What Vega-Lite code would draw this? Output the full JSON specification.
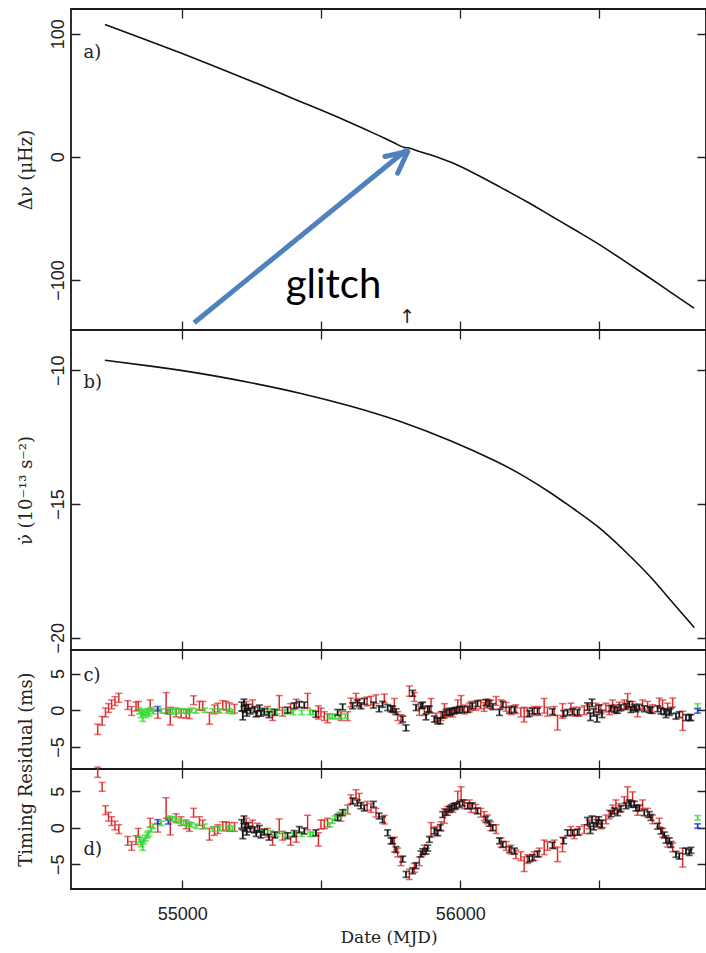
{
"$schema": "https://vega.github.io/schema/vega-lite/v6.json",
"background": "white",
"padding": {"left": 16, "top": 8, "right": 1, "bottom": 4},
"spacing": 0,
"bounds": "flush",
"config": {
  "view": {"stroke": "#1a1a1a", "strokeWidth": 1.8},
  "axis": {"domain": false, "grid": true, "ticks": false, "tickSize": 0, "gridColor": "#222", "gridWidth": 1.3, "gridOpacity": 1, "labelFont": "Liberation Sans", "labelFontSize": 18, "labelColor": "#222", "titleFont": "DejaVu Serif", "titleFontSize": 18, "titleFontWeight": "normal", "titleColor": "#222", "labelOverlap": false, "labelFlush": false}
},
"datasets": {
  "nu": [
    {"mjd":54722,"dnu":107.5},{"mjd":54850,"dnu":96.7},{"mjd":55000,"dnu":83.8},{"mjd":55100,"dnu":75},{"mjd":55247,"dnu":61.6},{"mjd":55400,"dnu":47.2},{"mjd":55583,"dnu":29.9},{"mjd":55700,"dnu":18.0},{"mjd":55760,"dnu":11.6},{"mjd":55800,"dnu":7.5},{"mjd":55812,"dnu":7.3},{"mjd":55850,"dnu":4.6},{"mjd":55895,"dnu":1.4},{"mjd":55967,"dnu":-4.5},{"mjd":56060,"dnu":-14.5},{"mjd":56147,"dnu":-25},{"mjd":56240,"dnu":-36.5},{"mjd":56327,"dnu":-48},{"mjd":56410,"dnu":-59},{"mjd":56495,"dnu":-70.5},{"mjd":56590,"dnu":-84.5},{"mjd":56686,"dnu":-99},{"mjd":56760,"dnu":-110.5},{"mjd":56841,"dnu":-122.8}
  ],
  "nudot": [
    {"mjd":54722,"nd":-9.63},{"mjd":54900,"nd":-9.87},{"mjd":55068,"nd":-10.13},{"mjd":55247,"nd":-10.47},{"mjd":55427,"nd":-10.87},{"mjd":55607,"nd":-11.35},{"mjd":55787,"nd":-11.93},{"mjd":55967,"nd":-12.65},{"mjd":56123,"nd":-13.38},{"mjd":56230,"nd":-13.97},{"mjd":56327,"nd":-14.6},{"mjd":56410,"nd":-15.2},{"mjd":56495,"nd":-15.85},{"mjd":56591,"nd":-16.75},{"mjd":56686,"nd":-17.75},{"mjd":56760,"nd":-18.64},{"mjd":56842,"nd":-19.62}
  ],
  "res": [
{"t":54696,"o":"R","e":0.7,"c":-2.6,"d":7.6},
{"t":54712,"o":"R","e":0.6,"c":-1.45,"d":5.6},
{"t":54724,"o":"R","e":0.6,"c":-0.3,"d":2.4},
{"t":54735,"o":"R","e":0.6,"c":0.3,"d":1.5},
{"t":54746,"o":"R","e":0.6,"c":0.8,"d":0.9},
{"t":54758,"o":"R","e":0.6,"c":1.25,"d":0.3},
{"t":54772,"o":"R","e":0.6,"c":1.7,"d":-0.2},
{"t":54804,"o":"R","e":0.6,"c":0.7,"d":-1.8},
{"t":54818,"o":"R","e":0.6,"c":-0.1,"d":-2.5},
{"t":54834,"o":"R","e":0.6,"c":0.5,"d":-1.7},
{"t":54842,"o":"R","e":0.6,"c":0.6,"d":-0.7},
{"t":54846,"o":"G","e":0.4,"c":-0.1,"d":-1.6},
{"t":54852,"o":"G","e":0.5,"c":-0.5,"d":-2.1},
{"t":54858,"o":"G","e":0.6,"c":-0.9,"d":-2.5},
{"t":54862,"o":"G","e":0.4,"c":-0.3,"d":-1.8},
{"t":54868,"o":"G","e":0.4,"c":-0.6,"d":-1.4},
{"t":54874,"o":"G","e":0.4,"c":-0.2,"d":-1.0},
{"t":54880,"o":"G","e":0.4,"c":-0.4,"d":-0.8},
{"t":54885,"o":"R","e":0.6,"c":0.8,"d":0.7},
{"t":54888,"o":"G","e":0.3,"c":0.1,"d":-0.3},
{"t":54895,"o":"G","e":0.3,"c":-0.2,"d":0.2},
{"t":54912,"o":"R","e":0.6,"c":-0.5,"d":0.0},
{"t":54912,"o":"B","e":0.3,"c":0.2,"d":0.8},
{"t":54925,"o":"G","e":0.3,"c":-0.1,"d":0.6},
{"t":54942,"o":"R","e":1.4,"c":1.0,"d":2.7},
{"t":54950,"o":"B","e":0.3,"c":-0.2,"d":0.8},
{"t":54952,"o":"G","e":0.3,"c":-0.2,"d":1.3},
{"t":54957,"o":"R","e":1.2,"c":-0.8,"d":0.2},
{"t":54965,"o":"G","e":0.3,"c":-0.1,"d":1.2},
{"t":54975,"o":"G","e":0.3,"c":-0.2,"d":1.1},
{"t":54978,"o":"R","e":0.6,"c":-0.3,"d":1.3},
{"t":54988,"o":"G","e":0.3,"c":-0.1,"d":0.9},
{"t":54996,"o":"R","e":0.6,"c":-0.45,"d":0.9},
{"t":55005,"o":"G","e":0.3,"c":-0.1,"d":0.7},
{"t":55014,"o":"R","e":0.6,"c":-0.45,"d":0.45},
{"t":55020,"o":"G","e":0.3,"c":-0.2,"d":0.5},
{"t":55026,"o":"R","e":0.6,"c":-0.55,"d":0.1},
{"t":55033,"o":"G","e":0.3,"c":0.0,"d":0.4},
{"t":55041,"o":"R","e":0.6,"c":1.36,"d":2.05},
{"t":55050,"o":"G","e":0.3,"c":-0.1,"d":0.2},
{"t":55062,"o":"R","e":0.6,"c":0.6,"d":0.9},
{"t":55074,"o":"R","e":0.6,"c":0.6,"d":0.45},
{"t":55080,"o":"G","e":0.3,"c":0.0,"d":0.2},
{"t":55098,"o":"R","e":0.8,"c":-1.1,"d":-0.9},
{"t":55110,"o":"G","e":0.3,"c":-0.1,"d":-0.2},
{"t":55116,"o":"R","e":0.6,"c":0.1,"d":-0.45},
{"t":55128,"o":"R","e":0.6,"c":0.35,"d":-0.2},
{"t":55135,"o":"G","e":0.3,"c":-0.1,"d":-0.1},
{"t":55146,"o":"R","e":0.6,"c":0.7,"d":0.2},
{"t":55158,"o":"R","e":0.6,"c":0.6,"d":0.2},
{"t":55165,"o":"G","e":0.3,"c":-0.1,"d":0.0},
{"t":55170,"o":"R","e":0.6,"c":0.4,"d":0.1},
{"t":55180,"o":"G","e":0.3,"c":-0.2,"d":-0.1},
{"t":55188,"o":"R","e":0.6,"c":0.2,"d":0.1},
{"t":55214,"o":"K","e":0.6,"c":0.5,"d":0.5},
{"t":55218,"o":"K","e":0.6,"c":-0.7,"d":-0.9},
{"t":55222,"o":"K","e":0.5,"c":1.0,"d":1.1},
{"t":55226,"o":"K","e":0.5,"c":0.2,"d":0.0},
{"t":55230,"o":"R","e":0.6,"c":0.6,"d":0.7},
{"t":55232,"o":"K","e":0.5,"c":-0.3,"d":-0.5},
{"t":55238,"o":"K","e":0.4,"c":0.4,"d":0.3},
{"t":55245,"o":"K","e":0.4,"c":-0.1,"d":-0.2},
{"t":55253,"o":"R","e":0.6,"c":0.8,"d":0.45},
{"t":55260,"o":"K","e":0.4,"c":0.1,"d":-0.3},
{"t":55266,"o":"K","e":0.4,"c":-0.5,"d":-0.8},
{"t":55271,"o":"R","e":0.6,"c":-0.2,"d":0.0},
{"t":55278,"o":"K","e":0.4,"c":0.3,"d":-0.1},
{"t":55283,"o":"K","e":0.4,"c":-0.4,"d":-1.0},
{"t":55290,"o":"G","e":0.3,"c":0.0,"d":-0.6},
{"t":55295,"o":"K","e":0.4,"c":-0.2,"d":-0.6},
{"t":55307,"o":"R","e":0.6,"c":-0.1,"d":-0.7},
{"t":55312,"o":"K","e":0.4,"c":-0.6,"d":-1.3},
{"t":55318,"o":"G","e":0.3,"c":-0.1,"d":-0.7},
{"t":55325,"o":"R","e":0.6,"c":-0.8,"d":-1.8},
{"t":55333,"o":"K","e":0.4,"c":-0.3,"d":-1.0},
{"t":55340,"o":"G","e":0.3,"c":-0.2,"d":-0.9},
{"t":55349,"o":"R","e":1.0,"c":1.0,"d":0.2},
{"t":55361,"o":"R","e":0.6,"c":-0.2,"d":-1.1},
{"t":55370,"o":"G","e":0.3,"c":-0.2,"d":-1.0},
{"t":55379,"o":"K","e":0.4,"c":0.0,"d":-1.1},
{"t":55390,"o":"R","e":0.6,"c":0.3,"d":-1.8},
{"t":55398,"o":"G","e":0.3,"c":-0.3,"d":-1.0},
{"t":55403,"o":"K","e":0.4,"c":0.6,"d":-0.8},
{"t":55410,"o":"R","e":0.6,"c":0.9,"d":-1.4},
{"t":55421,"o":"K","e":0.4,"c":0.8,"d":-0.25},
{"t":55430,"o":"G","e":0.3,"c":-0.3,"d":-0.9},
{"t":55439,"o":"K","e":0.4,"c":0.7,"d":-0.45},
{"t":55451,"o":"R","e":1.0,"c":1.3,"d":0.7},
{"t":55460,"o":"G","e":0.3,"c":-0.3,"d":-0.9},
{"t":55470,"o":"G","e":0.3,"c":-0.3,"d":-0.9},
{"t":55481,"o":"K","e":0.4,"c":-0.55,"d":-0.7},
{"t":55490,"o":"R","e":0.9,"c":-0.3,"d":-1.6},
{"t":55499,"o":"R","e":0.6,"c":-0.3,"d":0.45},
{"t":55511,"o":"R","e":0.6,"c":-0.8,"d":0.45},
{"t":55523,"o":"R","e":0.6,"c":-1.1,"d":0.7},
{"t":55530,"o":"G","e":0.3,"c":-0.8,"d":0.4},
{"t":55540,"o":"G","e":0.3,"c":-0.9,"d":0.9},
{"t":55550,"o":"G","e":0.3,"c":-0.8,"d":1.3},
{"t":55559,"o":"K","e":0.4,"c":-0.3,"d":1.4},
{"t":55565,"o":"G","e":0.3,"c":-0.9,"d":1.7},
{"t":55571,"o":"R","e":0.6,"c":-0.8,"d":1.5},
{"t":55577,"o":"K","e":0.4,"c":0.45,"d":2.05},
{"t":55587,"o":"G","e":0.3,"c":-0.8,"d":2.2},
{"t":55595,"o":"R","e":0.6,"c":-0.8,"d":2.5},
{"t":55607,"o":"R","e":0.6,"c":1.05,"d":3.9},
{"t":55613,"o":"K","e":0.4,"c":0.6,"d":3.65},
{"t":55625,"o":"R","e":0.6,"c":1.7,"d":4.6},
{"t":55630,"o":"K","e":0.4,"c":1.0,"d":3.4},
{"t":55637,"o":"R","e":0.6,"c":1.0,"d":4.1},
{"t":55643,"o":"K","e":0.4,"c":0.6,"d":3.0},
{"t":55655,"o":"K","e":0.4,"c":1.2,"d":2.7},
{"t":55665,"o":"R","e":0.6,"c":1.2,"d":3.0},
{"t":55679,"o":"R","e":0.6,"c":1.3,"d":2.7},
{"t":55688,"o":"K","e":0.4,"c":0.7,"d":3.2},
{"t":55697,"o":"R","e":0.6,"c":1.5,"d":2.05},
{"t":55708,"o":"K","e":0.4,"c":0.2,"d":1.6},
{"t":55721,"o":"K","e":0.4,"c":0.8,"d":1.1},
{"t":55727,"o":"R","e":0.6,"c":1.6,"d":1.1},
{"t":55739,"o":"K","e":0.4,"c":0.36,"d":-0.7},
{"t":55751,"o":"K","e":0.4,"c":0.2,"d":-1.8},
{"t":55757,"o":"K","e":0.4,"c":0.15,"d":-1.8},
{"t":55763,"o":"R","e":1.0,"c":0.6,"d":-2.3},
{"t":55769,"o":"K","e":0.4,"c":-0.2,"d":-3.0},
{"t":55775,"o":"R","e":0.6,"c":-0.8,"d":-3.4},
{"t":55787,"o":"R","e":0.6,"c":-1.2,"d":-4.6},
{"t":55793,"o":"K","e":0.4,"c":-1.2,"d":-4.3},
{"t":55805,"o":"K","e":0.4,"c":-2.4,"d":-6.4},
{"t":55817,"o":"R","e":0.7,"c":2.6,"d":-6.4},
{"t":55829,"o":"K","e":0.4,"c":2.3,"d":-5.9},
{"t":55835,"o":"R","e":0.6,"c":1.8,"d":-5.5},
{"t":55841,"o":"K","e":0.4,"c":0.36,"d":-5.2},
{"t":55853,"o":"R","e":0.6,"c":-0.1,"d":-4.6},
{"t":55859,"o":"K","e":0.4,"c":0.6,"d":-3.6},
{"t":55865,"o":"K","e":0.4,"c":0.7,"d":-3.3},
{"t":55871,"o":"R","e":0.6,"c":-0.1,"d":-3.0},
{"t":55877,"o":"K","e":0.4,"c":-0.9,"d":-3.2},
{"t":55883,"o":"K","e":0.4,"c":0.15,"d":-2.8},
{"t":55889,"o":"K","e":0.4,"c":0.15,"d":-1.6},
{"t":55895,"o":"R","e":1.0,"c":0.6,"d":-0.3},
{"t":55907,"o":"K","e":0.4,"c":-1.2,"d":-0.45},
{"t":55913,"o":"R","e":0.6,"c":-1.0,"d":-0.45},
{"t":55919,"o":"K","e":0.4,"c":-1.45,"d":-0.7},
{"t":55928,"o":"K","e":0.4,"c":-1.45,"d":0.0},
{"t":55931,"o":"R","e":0.6,"c":-0.8,"d":0.2},
{"t":55937,"o":"K","e":0.4,"c":-0.6,"d":1.8},
{"t":55943,"o":"R","e":1.0,"c":-0.1,"d":1.6},
{"t":55949,"o":"K","e":0.4,"c":-0.3,"d":2.1},
{"t":55955,"o":"R","e":0.6,"c":-0.3,"d":2.3},
{"t":55961,"o":"K","e":0.4,"c":-0.3,"d":2.5},
{"t":55967,"o":"K","e":0.4,"c":-0.2,"d":2.7},
{"t":55973,"o":"R","e":0.6,"c":-0.3,"d":2.7},
{"t":55979,"o":"K","e":0.4,"c":-0.1,"d":2.9},
{"t":55985,"o":"K","e":0.4,"c":0.0,"d":3.0},
{"t":55991,"o":"R","e":0.9,"c":0.5,"d":4.1},
{"t":55997,"o":"K","e":0.4,"c":0.1,"d":3.2},
{"t":56003,"o":"R","e":1.0,"c":1.0,"d":4.6},
{"t":56009,"o":"K","e":0.4,"c":0.1,"d":3.4},
{"t":56015,"o":"R","e":0.6,"c":0.1,"d":3.2},
{"t":56027,"o":"K","e":0.4,"c":0.1,"d":3.0},
{"t":56033,"o":"R","e":0.6,"c":0.36,"d":3.2},
{"t":56039,"o":"R","e":0.6,"c":0.6,"d":2.7},
{"t":56044,"o":"K","e":0.4,"c":0.6,"d":3.0},
{"t":56056,"o":"R","e":0.6,"c":0.6,"d":2.6},
{"t":56062,"o":"K","e":0.4,"c":0.9,"d":2.3},
{"t":56074,"o":"R","e":0.6,"c":0.8,"d":2.05},
{"t":56086,"o":"R","e":0.6,"c":0.45,"d":1.6},
{"t":56092,"o":"K","e":0.4,"c":1.05,"d":1.14},
{"t":56098,"o":"R","e":0.6,"c":0.9,"d":1.14},
{"t":56104,"o":"K","e":0.4,"c":0.9,"d":0.6},
{"t":56110,"o":"R","e":0.6,"c":0.8,"d":0.2},
{"t":56117,"o":"K","e":0.4,"c":0.5,"d":0.0},
{"t":56129,"o":"R","e":0.6,"c":1.27,"d":-0.2},
{"t":56141,"o":"K","e":0.4,"c":-0.3,"d":-1.8},
{"t":56147,"o":"R","e":0.6,"c":0.8,"d":-2.05},
{"t":56153,"o":"K","e":0.4,"c":0.8,"d":-2.3},
{"t":56165,"o":"R","e":0.6,"c":0.45,"d":-2.5},
{"t":56177,"o":"K","e":0.4,"c":0.0,"d":-3.0},
{"t":56183,"o":"R","e":0.6,"c":0.0,"d":-3.0},
{"t":56195,"o":"K","e":0.4,"c":0.1,"d":-3.2},
{"t":56200,"o":"R","e":0.6,"c":0.14,"d":-3.65},
{"t":56218,"o":"R","e":0.6,"c":-0.3,"d":-3.9},
{"t":56230,"o":"R","e":1.0,"c":-0.6,"d":-5.0},
{"t":56242,"o":"R","e":0.6,"c":-0.3,"d":-4.3},
{"t":56248,"o":"K","e":0.4,"c":-0.45,"d":-4.3},
{"t":56260,"o":"K","e":0.4,"c":-0.1,"d":-4.1},
{"t":56266,"o":"R","e":0.6,"c":-0.1,"d":-3.9},
{"t":56278,"o":"K","e":0.4,"c":-0.1,"d":-3.6},
{"t":56284,"o":"R","e":0.6,"c":-0.1,"d":-3.4},
{"t":56302,"o":"R","e":1.0,"c":0.6,"d":-2.7},
{"t":56314,"o":"R","e":0.6,"c":-0.2,"d":-2.5},
{"t":56332,"o":"K","e":0.4,"c":-0.2,"d":-2.4},
{"t":56338,"o":"R","e":0.6,"c":-0.1,"d":-2.3},
{"t":56350,"o":"R","e":1.0,"c":-1.7,"d":-3.65},
{"t":56368,"o":"R","e":1.0,"c":-0.1,"d":-2.3},
{"t":56372,"o":"K","e":0.4,"c":-0.45,"d":-1.8},
{"t":56386,"o":"K","e":0.4,"c":-0.3,"d":-0.7},
{"t":56398,"o":"R","e":0.6,"c":0.36,"d":-0.45},
{"t":56404,"o":"K","e":0.4,"c":-0.2,"d":-0.7},
{"t":56410,"o":"R","e":0.6,"c":-0.2,"d":-0.9},
{"t":56422,"o":"K","e":0.4,"c":-0.3,"d":-0.6},
{"t":56428,"o":"R","e":0.6,"c":-0.2,"d":-0.45},
{"t":56446,"o":"R","e":0.6,"c":0.0,"d":-0.2},
{"t":56458,"o":"K","e":0.5,"c":0.5,"d":0.9},
{"t":56464,"o":"R","e":0.6,"c":0.2,"d":0.45},
{"t":56468,"o":"K","e":0.5,"c":-0.9,"d":-0.3},
{"t":56474,"o":"K","e":0.5,"c":1.0,"d":1.1},
{"t":56480,"o":"K","e":0.5,"c":-0.3,"d":0.2},
{"t":56488,"o":"R","e":0.6,"c":0.36,"d":0.9},
{"t":56492,"o":"K","e":0.5,"c":-1.1,"d":0.6},
{"t":56498,"o":"K","e":0.5,"c":0.2,"d":1.0},
{"t":56506,"o":"R","e":0.6,"c":0.14,"d":0.45},
{"t":56510,"o":"K","e":0.5,"c":-0.5,"d":0.5},
{"t":56524,"o":"R","e":0.6,"c":0.36,"d":1.14},
{"t":56536,"o":"R","e":0.6,"c":0.0,"d":1.8},
{"t":56542,"o":"K","e":0.4,"c":0.27,"d":1.9},
{"t":56548,"o":"R","e":0.6,"c":0.8,"d":2.5},
{"t":56554,"o":"K","e":0.4,"c":0.1,"d":2.3},
{"t":56560,"o":"R","e":0.6,"c":0.14,"d":3.2},
{"t":56566,"o":"K","e":0.4,"c":0.0,"d":2.05},
{"t":56572,"o":"R","e":0.6,"c":0.5,"d":2.7},
{"t":56578,"o":"K","e":0.4,"c":0.36,"d":2.6},
{"t":56590,"o":"R","e":0.6,"c":0.8,"d":3.65},
{"t":56596,"o":"K","e":0.4,"c":0.5,"d":3.0},
{"t":56602,"o":"R","e":1.0,"c":1.27,"d":4.6},
{"t":56608,"o":"K","e":0.4,"c":0.8,"d":3.4},
{"t":56614,"o":"K","e":0.4,"c":0.1,"d":3.2},
{"t":56620,"o":"R","e":0.6,"c":0.6,"d":4.3},
{"t":56626,"o":"K","e":0.4,"c":0.4,"d":3.2},
{"t":56632,"o":"K","e":0.4,"c":0.2,"d":2.7},
{"t":56638,"o":"R","e":0.6,"c":-0.3,"d":2.3},
{"t":56644,"o":"K","e":0.4,"c":0.4,"d":2.7},
{"t":56656,"o":"R","e":0.6,"c":0.8,"d":3.2},
{"t":56662,"o":"K","e":0.4,"c":0.2,"d":2.05},
{"t":56674,"o":"R","e":0.6,"c":0.6,"d":2.05},
{"t":56680,"o":"K","e":0.4,"c":0.1,"d":1.8},
{"t":56686,"o":"K","e":0.4,"c":0.0,"d":1.4},
{"t":56692,"o":"R","e":0.6,"c":0.14,"d":1.14},
{"t":56710,"o":"K","e":0.4,"c":0.2,"d":0.2},
{"t":56716,"o":"R","e":0.6,"c":1.05,"d":0.7},
{"t":56722,"o":"K","e":0.4,"c":-0.1,"d":-0.45},
{"t":56728,"o":"R","e":0.6,"c":0.8,"d":-0.7},
{"t":56734,"o":"K","e":0.4,"c":-0.2,"d":-1.0},
{"t":56740,"o":"K","e":0.5,"c":-0.5,"d":-1.6},
{"t":56746,"o":"R","e":0.6,"c":0.36,"d":-2.05},
{"t":56752,"o":"K","e":0.4,"c":-0.3,"d":-1.8},
{"t":56758,"o":"K","e":0.4,"c":-0.1,"d":-2.3},
{"t":56764,"o":"R","e":0.6,"c":1.05,"d":-2.7},
{"t":56776,"o":"K","e":0.4,"c":-0.8,"d":-3.65},
{"t":56788,"o":"K","e":0.4,"c":-0.6,"d":-3.9},
{"t":56800,"o":"R","e":1.3,"c":-1.45,"d":-4.1},
{"t":56812,"o":"K","e":0.4,"c":-1.0,"d":-3.2},
{"t":56824,"o":"K","e":0.4,"c":-1.0,"d":-3.4},
{"t":56830,"o":"K","e":0.4,"c":-1.0,"d":-3.1},
{"t":56854,"o":"G","e":0.3,"c":0.59,"d":1.37},
{"t":56854,"o":"B","e":0.3,"c":-0.1,"d":0.23}
  ]
},
"vconcat": [
  {
    "width": 635, "height": 321,
    "layer": [
      {"data": {"name": "nu"},
       "mark": {"type": "line", "color": "#111", "strokeWidth": 1.6, "interpolate": "monotone"},
       "encoding": {
         "x": {"field": "mjd", "type": "quantitative", "scale": {"domain": [54600, 56884], "nice": false, "zero": false},
               "axis": {"orient": "bottom", "values": [55000,55500,56000,56500], "labels": false, "title": null, "gridDash": [9, 303, 9]}},
         "y": {"field": "dnu", "type": "quantitative", "scale": {"domain": [-140.6, 120], "nice": false, "zero": false},
               "axis": {"orient": "left", "values": [-100, 0, 100], "format": "d", "labelAngle": -90, "labelAlign": "center", "labelBaseline": "bottom", "labelPadding": 4, "minExtent": 32, "maxExtent": 32, "title": "Δν (μHz)", "titlePadding": 4, "gridDash": [9, 617, 9]}}
       }},
      {"data": {"name": "nu"},
       "mark": {"type": "point", "opacity": 0},
       "encoding": {
         "x": {"field": "mjd", "type": "quantitative", "scale": {"domain": [54600, 56884], "nice": false, "zero": false},
               "axis": {"orient": "top", "values": [54700,54800,54900,55000,55100,55200,55300,55400,55500,55600,55700,55800,55900,56000,56100,56200,56300,56400,56500,56600,56700,56800], "labels": false, "title": null, "gridDash": [5, 311, 5]}},
         "y": {"field": "dnu", "type": "quantitative", "scale": {"domain": [-140.6, 120], "nice": false, "zero": false},
               "axis": {"orient": "right", "values": [-140,-120,-100,-80,-60,-40,-20,0,20,40,60,80,100,120], "labels": false, "title": null, "gridDash": [5, 625, 5]}}
       }},
      {"data": {"values": [{}]},
       "mark": {"type": "text", "font": "DejaVu Serif", "fontSize": 18, "align": "left", "baseline": "middle", "color": "#222"},
       "encoding": {"x": {"datum": 54645, "type": "quantitative", "axis": null}, "y": {"datum": 84, "type": "quantitative", "axis": null}, "text": {"value": "a)"}}},
      {"data": {"values": [{}]},
       "mark": {"type": "text", "font": "DejaVu Sans", "fontSize": 19, "align": "center", "baseline": "middle", "color": "#222"},
       "encoding": {"x": {"datum": 55809, "type": "quantitative", "axis": null}, "y": {"datum": -130, "type": "quantitative", "axis": null}, "text": {"value": "↑"}}},
      {"data": {"values": [{}]},
       "mark": {"type": "rule", "color": "#4f81bd", "strokeWidth": 5, "strokeCap": "butt"},
       "encoding": {"x": {"datum": 55043, "type": "quantitative", "axis": null}, "y": {"datum": -134.7, "type": "quantitative", "axis": null}, "x2": {"datum": 55806}, "y2": {"datum": 5.5}}},
      {"data": {"values": [{}]},
       "mark": {"type": "rule", "color": "#4f81bd", "strokeWidth": 5, "strokeCap": "round"},
       "encoding": {"x": {"datum": 55811, "type": "quantitative", "axis": null}, "y": {"datum": 4.3, "type": "quantitative", "axis": null}, "x2": {"datum": 55729}, "y2": {"datum": 0.3}}},
      {"data": {"values": [{}]},
       "mark": {"type": "rule", "color": "#4f81bd", "strokeWidth": 5, "strokeCap": "round"},
       "encoding": {"x": {"datum": 55811, "type": "quantitative", "axis": null}, "y": {"datum": 4.3, "type": "quantitative", "axis": null}, "x2": {"datum": 55775}, "y2": {"datum": -13.3}}},
      {"data": {"values": [{}]},
       "mark": {"type": "text", "font": "Lato", "fontSize": 40, "align": "center", "baseline": "alphabetic", "color": "#000"},
       "encoding": {"x": {"datum": 55544, "type": "quantitative", "axis": null}, "y": {"datum": -114.4, "type": "quantitative", "axis": null}, "text": {"value": "glitch"}}}
    ],
    "resolve": {"axis": {"x": "independent", "y": "independent"}}
  },
  {
    "width": 635, "height": 320,
    "layer": [
      {"data": {"name": "nudot"},
       "mark": {"type": "line", "color": "#111", "strokeWidth": 1.6, "interpolate": "natural"},
       "encoding": {
         "x": {"field": "mjd", "type": "quantitative", "scale": {"domain": [54600, 56884], "nice": false, "zero": false},
               "axis": {"orient": "bottom", "values": [55000,55500,56000,56500], "labels": false, "title": null, "gridDash": [9, 302, 9]}},
         "y": {"field": "nd", "type": "quantitative", "scale": {"domain": [-20.46, -8.5], "nice": false, "zero": false},
               "axis": {"orient": "left", "values": [-20, -15, -10], "format": "d", "labelAngle": -90, "labelAlign": "center", "labelBaseline": "bottom", "labelPadding": 4, "minExtent": 32, "maxExtent": 32, "title": "ν̇ (10⁻¹³ s⁻²)", "titlePadding": 4, "gridDash": [9, 617, 9]}}
       }},
      {"data": {"name": "nudot"},
       "mark": {"type": "point", "opacity": 0},
       "encoding": {
         "x": {"field": "mjd", "type": "quantitative", "scale": {"domain": [54600, 56884], "nice": false, "zero": false},
               "axis": {"orient": "top", "values": [54700,54800,54900,55000,55100,55200,55300,55400,55500,55600,55700,55800,55900,56000,56100,56200,56300,56400,56500,56600,56700,56800], "labels": false, "title": null, "gridDash": [5, 310, 5]}},
         "y": {"field": "nd", "type": "quantitative", "scale": {"domain": [-20.46, -8.5], "nice": false, "zero": false},
               "axis": {"orient": "right", "values": [-20,-19,-18,-17,-16,-15,-14,-13,-12,-11,-10,-9], "labels": false, "title": null, "gridDash": [5, 625, 5]}}
       }},
      {"data": {"values": [{}]},
       "mark": {"type": "text", "font": "DejaVu Serif", "fontSize": 18, "align": "left", "baseline": "middle", "color": "#222"},
       "encoding": {"x": {"datum": 54645, "type": "quantitative", "axis": null}, "y": {"datum": -10.49, "type": "quantitative", "axis": null}, "text": {"value": "b)"}}}
    ],
    "resolve": {"axis": {"x": "independent", "y": "independent"}}
  },
  {
    "width": 635, "height": 119,
    "layer": [
      {"data": {"name": "res"},
       "mark": {"type": "point", "opacity": 0},
       "encoding": {
         "x": {"field": "t", "type": "quantitative", "scale": {"domain": [54600, 56884], "nice": false, "zero": false},
               "axis": {"orient": "bottom", "values": [55000,55500,56000,56500], "labels": false, "title": null, "gridDash": [9, 101, 9]}},
         "y": {"field": "c", "type": "quantitative", "scale": {"domain": [-8.0, 8.2], "nice": false, "zero": false},
               "axis": {"orient": "left", "values": [-5, 0, 5], "format": "d", "labelAngle": -90, "labelAlign": "center", "labelBaseline": "bottom", "labelPadding": 4, "minExtent": 32, "maxExtent": 32, "title": "Timing Residual (ms)", "titleY": 119, "titlePadding": 4, "gridDash": [9, 617, 9]}}
       }},
      {"data": {"name": "res"},
       "mark": {"type": "point", "opacity": 0},
       "encoding": {
         "x": {"field": "t", "type": "quantitative", "scale": {"domain": [54600, 56884], "nice": false, "zero": false},
               "axis": {"orient": "top", "values": [54700,54800,54900,55000,55100,55200,55300,55400,55500,55600,55700,55800,55900,56000,56100,56200,56300,56400,56500,56600,56700,56800], "labels": false, "title": null, "gridDash": [5, 109, 5]}},
         "y": {"field": "c", "type": "quantitative", "scale": {"domain": [-8.0, 8.2], "nice": false, "zero": false},
               "axis": {"orient": "right", "values": [-8,-7,-6,-5,-4,-3,-2,-1,0,1,2,3,4,5,6,7,8], "labels": false, "title": null, "gridDash": [5, 625, 5]}}
       }},
      {"data": {"name": "res"},
       "transform": [{"filter": "datum.o === 'R'"}],
       "mark": {"type": "errorbar", "ticks": {"size": 7}, "thickness": 1.5},
       "encoding": {
         "x": {"field": "t", "type": "quantitative", "axis": null},
         "y": {"field": "c", "type": "quantitative", "axis": null},
         "yError": {"field": "e"},
         "color": {"field": "o", "type": "nominal", "scale": {"domain": ["R","G","B","K"], "range": ["#dc2b2b","#36dc36","#1f30d0","#111111"]}, "legend": null}
       }},
      {"data": {"name": "res"},
       "transform": [{"filter": "datum.o === 'G' || datum.o === 'B'"}],
       "mark": {"type": "errorbar", "ticks": {"size": 7}, "thickness": 1.7},
       "encoding": {
         "x": {"field": "t", "type": "quantitative", "axis": null},
         "y": {"field": "c", "type": "quantitative", "axis": null},
         "yError": {"field": "e"},
         "color": {"field": "o", "type": "nominal", "scale": {"domain": ["R","G","B","K"], "range": ["#dc2b2b","#36dc36","#1f30d0","#111111"]}, "legend": null}
       }},
      {"data": {"name": "res"},
       "transform": [{"filter": "datum.o === 'K'"}],
       "mark": {"type": "errorbar", "ticks": {"size": 7}, "thickness": 1.7},
       "encoding": {
         "x": {"field": "t", "type": "quantitative", "axis": null},
         "y": {"field": "c", "type": "quantitative", "axis": null},
         "yError": {"field": "e"},
         "color": {"field": "o", "type": "nominal", "scale": {"domain": ["R","G","B","K"], "range": ["#dc2b2b","#36dc36","#1f30d0","#111111"]}, "legend": null}
       }},
      {"data": {"values": [{}]},
       "mark": {"type": "text", "font": "DejaVu Serif", "fontSize": 18, "align": "left", "baseline": "middle", "color": "#222"},
       "encoding": {"x": {"datum": 54645, "type": "quantitative", "axis": null}, "y": {"datum": 4.7, "type": "quantitative", "axis": null}, "text": {"value": "c)"}}}
    ],
    "resolve": {"axis": {"x": "independent", "y": "independent"}}
  },
  {
    "width": 635, "height": 120,
    "layer": [
      {"data": {"name": "res"},
       "mark": {"type": "point", "opacity": 0},
       "encoding": {
         "x": {"field": "t", "type": "quantitative", "scale": {"domain": [54600, 56884], "nice": false, "zero": false},
               "axis": {"orient": "bottom", "values": [55000,55500,56000,56500], "labelExpr": "datum.value % 1000 === 0 ? format(datum.value, 'd') : ''", "labelPadding": 16, "title": "Date (MJD)", "titleFontSize": 17, "titlePadding": 6, "gridDash": [9, 102, 9]}},
         "y": {"field": "d", "type": "quantitative", "scale": {"domain": [-8.4, 8.04], "nice": false, "zero": false},
               "axis": {"orient": "left", "values": [-5, 0, 5], "format": "d", "labelAngle": -90, "labelAlign": "center", "labelBaseline": "bottom", "labelPadding": 4, "minExtent": 32, "maxExtent": 32, "title": null, "gridDash": [9, 617, 9]}}
       }},
      {"data": {"name": "res"},
       "mark": {"type": "point", "opacity": 0},
       "encoding": {
         "x": {"field": "t", "type": "quantitative", "scale": {"domain": [54600, 56884], "nice": false, "zero": false},
               "axis": {"orient": "top", "values": [54700,54800,54900,55000,55100,55200,55300,55400,55500,55600,55700,55800,55900,56000,56100,56200,56300,56400,56500,56600,56700,56800], "labels": false, "title": null, "gridDash": [5, 110, 5]}},
         "y": {"field": "d", "type": "quantitative", "scale": {"domain": [-8.4, 8.04], "nice": false, "zero": false},
               "axis": {"orient": "right", "values": [-8,-7,-6,-5,-4,-3,-2,-1,0,1,2,3,4,5,6,7,8], "labels": false, "title": null, "gridDash": [5, 625, 5]}}
       }},
      {"data": {"name": "res"},
       "transform": [{"filter": "datum.o === 'R'"}],
       "mark": {"type": "errorbar", "ticks": {"size": 7}, "thickness": 1.5},
       "encoding": {
         "x": {"field": "t", "type": "quantitative", "axis": null},
         "y": {"field": "d", "type": "quantitative", "axis": null},
         "yError": {"field": "e"},
         "color": {"field": "o", "type": "nominal", "scale": {"domain": ["R","G","B","K"], "range": ["#dc2b2b","#36dc36","#1f30d0","#111111"]}, "legend": null}
       }},
      {"data": {"name": "res"},
       "transform": [{"filter": "datum.o === 'G' || datum.o === 'B'"}],
       "mark": {"type": "errorbar", "ticks": {"size": 7}, "thickness": 1.7},
       "encoding": {
         "x": {"field": "t", "type": "quantitative", "axis": null},
         "y": {"field": "d", "type": "quantitative", "axis": null},
         "yError": {"field": "e"},
         "color": {"field": "o", "type": "nominal", "scale": {"domain": ["R","G","B","K"], "range": ["#dc2b2b","#36dc36","#1f30d0","#111111"]}, "legend": null}
       }},
      {"data": {"name": "res"},
       "transform": [{"filter": "datum.o === 'K'"}],
       "mark": {"type": "errorbar", "ticks": {"size": 7}, "thickness": 1.7},
       "encoding": {
         "x": {"field": "t", "type": "quantitative", "axis": null},
         "y": {"field": "d", "type": "quantitative", "axis": null},
         "yError": {"field": "e"},
         "color": {"field": "o", "type": "nominal", "scale": {"domain": ["R","G","B","K"], "range": ["#dc2b2b","#36dc36","#1f30d0","#111111"]}, "legend": null}
       }},
      {"data": {"values": [{}]},
       "mark": {"type": "text", "font": "DejaVu Serif", "fontSize": 18, "align": "left", "baseline": "middle", "color": "#222"},
       "encoding": {"x": {"datum": 54645, "type": "quantitative", "axis": null}, "y": {"datum": -3.05, "type": "quantitative", "axis": null}, "text": {"value": "d)"}}}
    ],
    "resolve": {"axis": {"x": "independent", "y": "independent"}}
  }
]
}
